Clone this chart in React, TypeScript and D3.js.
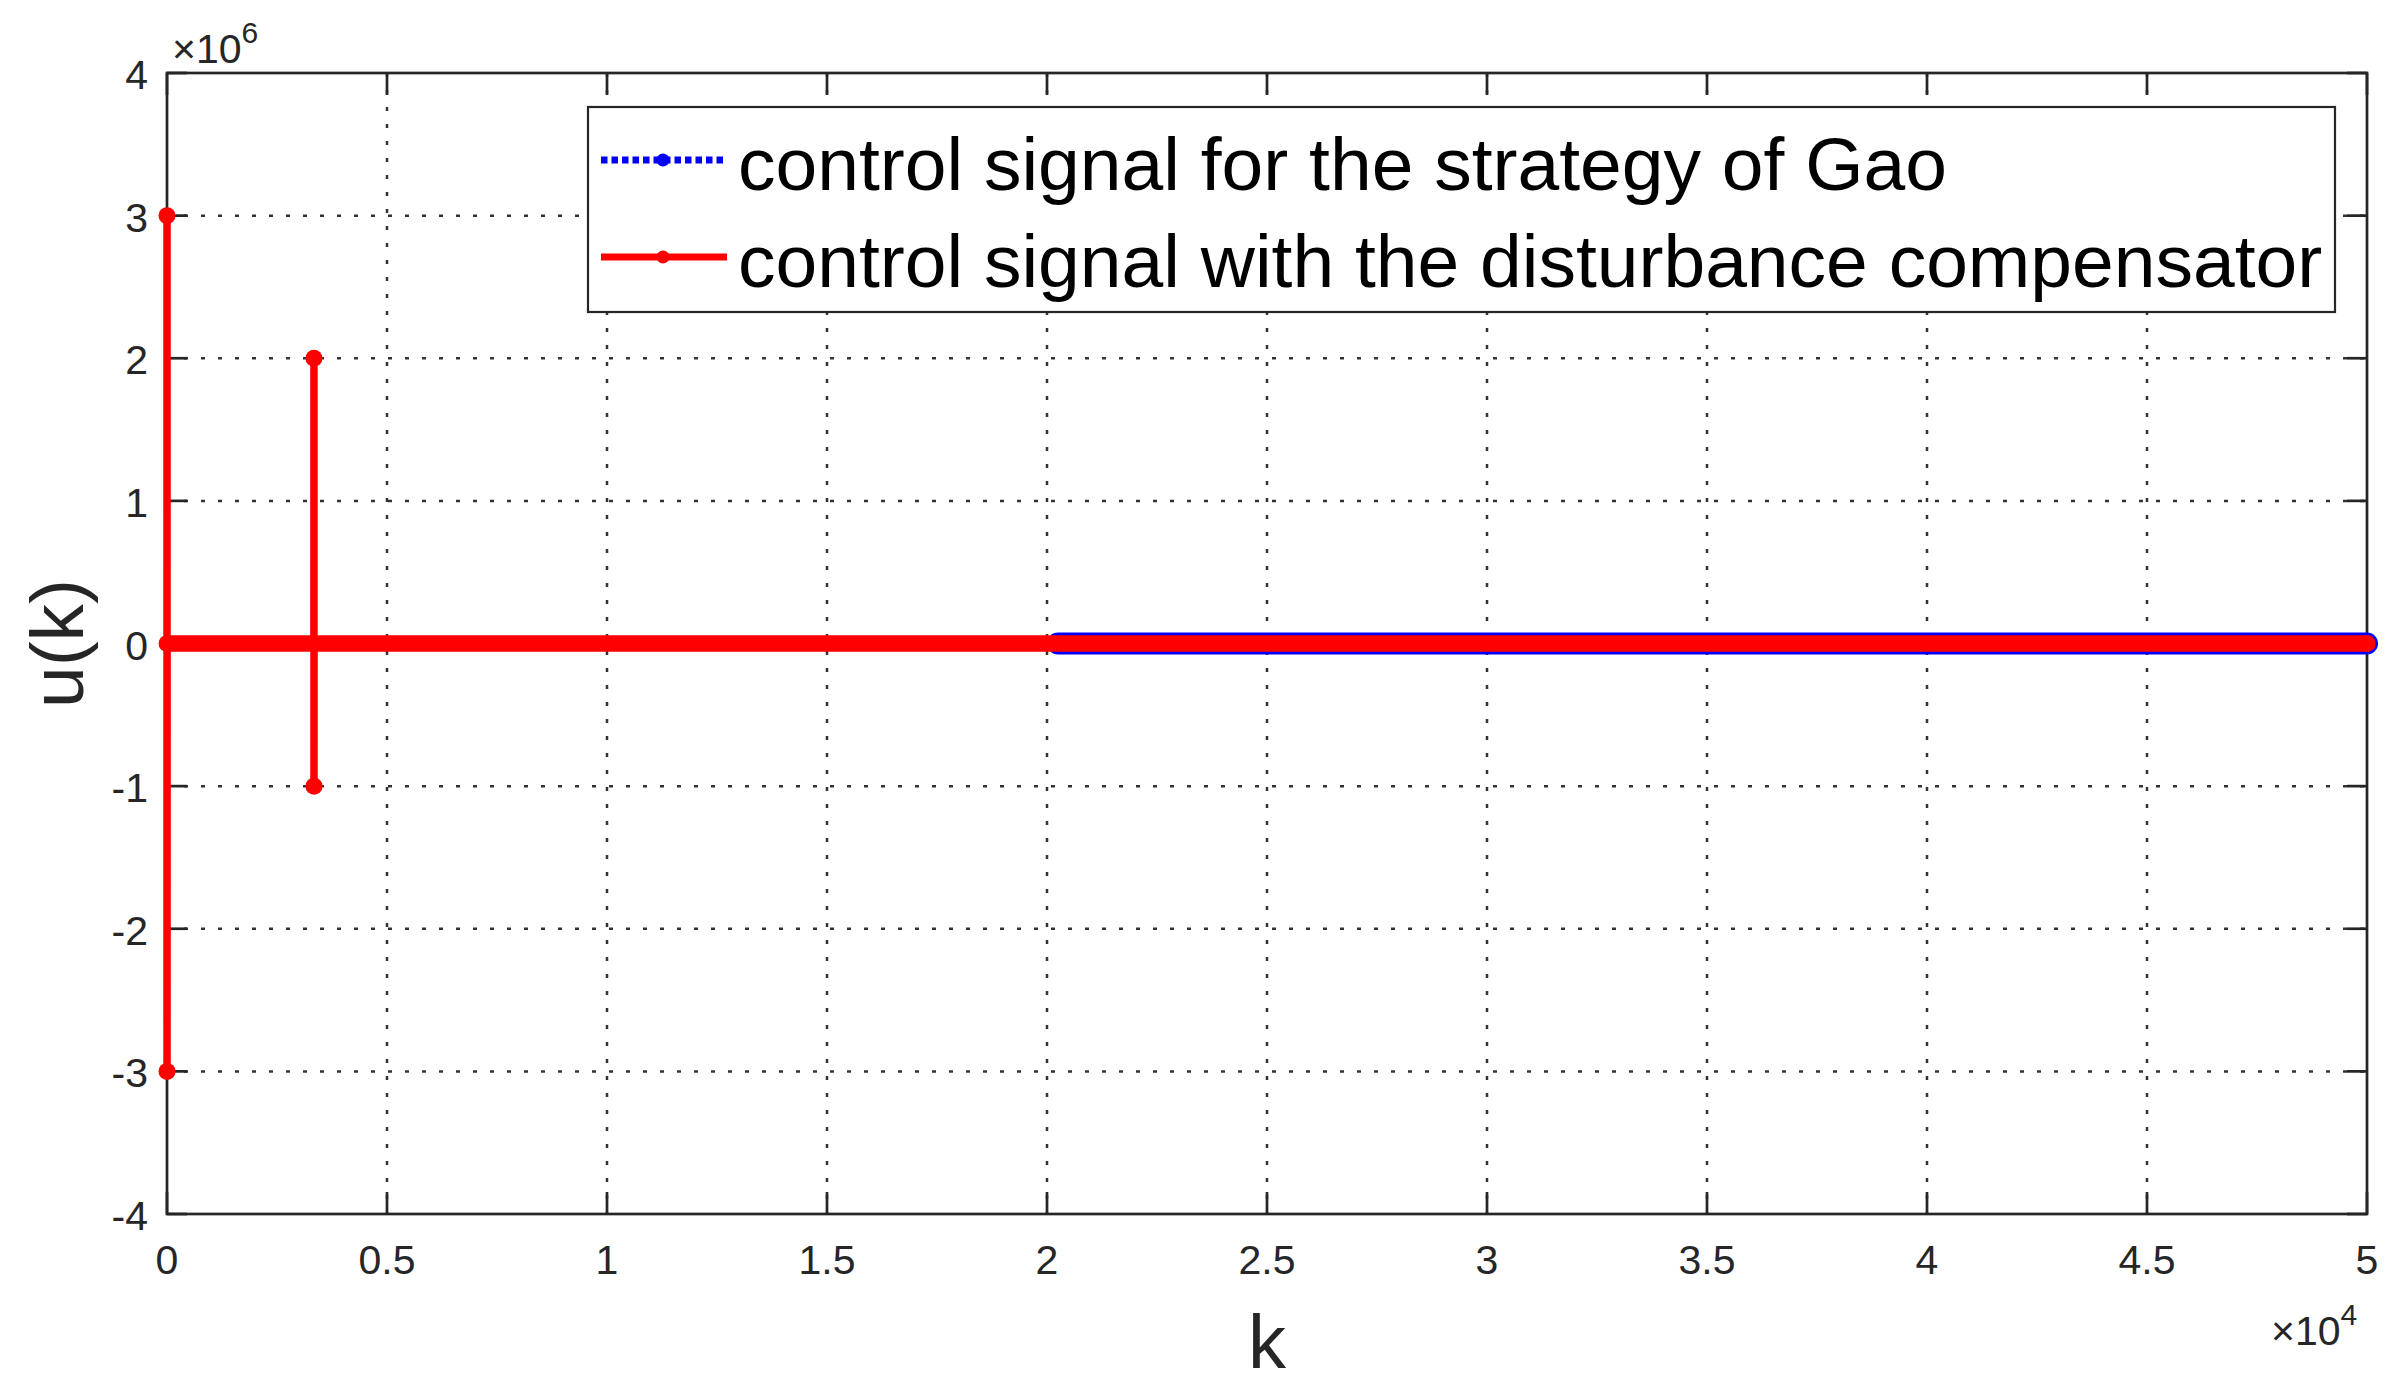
import React, { useEffect, useRef } from "react";
import * as d3 from "d3";

// k samples and u(k) values
const compK = [0, 1, 2, 3339, 3340, 3341, 3342, 50000];
const compU = [3e6, -3e6, 0, 0, 2e6, -1e6, 0, 0];
const gaoK = [20250, 50000];
const gaoU = [0, 0];

const xTicks = [0, 5000, 10000, 15000, 20000, 25000, 30000, 35000, 40000, 45000, 50000];
const yTicks = [-4e6, -3e6, -2e6, -1e6, 0, 1e6, 2e6, 3e6, 4e6];
const legendLabels = [
  "control signal for the strategy of Gao",
  "control signal with the disturbance compensator",
];

const App = () => {
  const svgRef = useRef<SVGSVGElement>(null);

  useEffect(() => {
    const svg = d3.select(svgRef.current);
    svg.selectAll("*").remove();

    const width = 2407, height = 1393;
    const left = 167, right = 2367, top = 73, bottom = 1214;
    const axisColor = "#262626";
    const font = "'Liberation Sans', Arial, sans-serif";

    const x = d3.scaleLinear().domain([0, 50000]).range([left, right]);
    const y = d3.scaleLinear().domain([-4e6, 4e6]).range([bottom, top]);

    svg.append("rect").attr("width", width).attr("height", height).attr("fill", "#fff");

    // grid (dotted)
    const grid = svg.append("g")
      .attr("stroke", "#333")
      .attr("stroke-width", 2.5)
      .attr("stroke-dasharray", "4,13");
    grid.selectAll("line.gx")
      .data(xTicks.slice(1, -1))
      .join("line")
      .attr("x1", (d) => x(d)).attr("x2", (d) => x(d))
      .attr("y1", top).attr("y2", bottom);
    grid.selectAll("line.gy")
      .data(yTicks.slice(1, -1))
      .join("line")
      .attr("x1", left).attr("x2", right)
      .attr("y1", (d) => y(d)).attr("y2", (d) => y(d));

    // axes box + inward ticks on all sides
    const ax = svg.append("g").attr("stroke", axisColor).attr("stroke-width", 2.7);
    ax.append("rect")
      .attr("x", left).attr("y", top)
      .attr("width", right - left).attr("height", bottom - top)
      .attr("fill", "none");
    const tx = 22, ty = 20;
    xTicks.forEach((t) => {
      ax.append("line").attr("x1", x(t)).attr("x2", x(t)).attr("y1", bottom).attr("y2", bottom - tx);
      ax.append("line").attr("x1", x(t)).attr("x2", x(t)).attr("y1", top).attr("y2", top + tx);
    });
    yTicks.forEach((t) => {
      ax.append("line").attr("x1", left).attr("x2", left + ty).attr("y1", y(t)).attr("y2", y(t));
      ax.append("line").attr("x1", right).attr("x2", right - ty).attr("y1", y(t)).attr("y2", y(t));
    });

    // tick labels (plain hyphen for minus, like MATLAB)
    const labels = svg.append("g").attr("fill", axisColor).attr("font-family", font).attr("font-size", 41);
    labels.selectAll("text.xt")
      .data(xTicks)
      .join("text")
      .attr("x", (d) => x(d))
      .attr("y", 1274)
      .attr("text-anchor", "middle")
      .text((d) => String(d / 1e4));
    labels.selectAll("text.yt")
      .data(yTicks)
      .join("text")
      .attr("x", 148)
      .attr("y", (d) => y(d) + 16)
      .attr("text-anchor", "end")
      .text((d) => String(d / 1e6));

    // exponent labels
    const e6 = labels.append("text").attr("x", 172).attr("y", 63);
    e6.append("tspan").text("\u00d710");
    e6.append("tspan").attr("font-size", 30).attr("dy", -20).text("6");
    const e4 = labels.append("text").attr("x", 2271).attr("y", 1345);
    e4.append("tspan").text("\u00d710");
    e4.append("tspan").attr("font-size", 30).attr("dy", -20).text("4");

    // axis titles
    svg.append("text")
      .attr("x", left + (right - left) / 2)
      .attr("y", 1368)
      .attr("text-anchor", "middle")
      .attr("font-family", font)
      .attr("font-size", 76)
      .attr("fill", axisColor)
      .text("k");
    svg.append("text")
      .attr("transform", `translate(83, ${(top + bottom) / 2}) rotate(-90)`)
      .attr("text-anchor", "middle")
      .attr("font-family", font)
      .attr("font-size", 75)
      .attr("fill", axisColor)
      .text("u(k)");

    const line = d3.line<number>()
      .x((d, i) => x(compK[i]))
      .y((d) => y(d));

    // Gao series: dense markers at zero form a thick blue band
    const gaoPts = gaoK.map((k, i) => [k, gaoU[i]] as [number, number]);
    svg.append("path")
      .datum(gaoPts)
      .attr("fill", "none")
      .attr("stroke", "#0000ff")
      .attr("stroke-width", 22)
      .attr("stroke-linecap", "round")
      .attr("d", d3.line().x((d) => x(d[0])).y((d) => y(d[1])));

    // compensator series: spikes
    svg.append("path")
      .datum(compU)
      .attr("fill", "none")
      .attr("stroke", "#ff0000")
      .attr("stroke-width", 7.5)
      .attr("stroke-linejoin", "round")
      .attr("d", line);

    // settled portion (u = 0) drawn as the dense-marker band
    const zeroSegs: [number, number][][] = [];
    for (let i = 1; i < compK.length; i++) {
      if (compU[i] === 0 && compU[i - 1] === 0) {
        zeroSegs.push([[compK[i - 1], 0], [compK[i], 0]]);
      }
    }
    svg.append("g").selectAll("path")
      .data(zeroSegs)
      .join("path")
      .attr("fill", "none")
      .attr("stroke", "#ff0000")
      .attr("stroke-width", 16)
      .attr("stroke-linecap", "round")
      .attr("d", d3.line().x((d) => x(d[0])).y((d) => y(d[1])));
    svg.append("line")
      .attr("x1", x(compK[0])).attr("x2", x(compK[compK.length - 1]))
      .attr("y1", y(0)).attr("y2", y(0))
      .attr("stroke", "#ff0000").attr("stroke-width", 16).attr("stroke-linecap", "round");

    svg.append("g").selectAll("circle")
      .data(compU)
      .join("circle")
      .attr("cx", (d, i) => x(compK[i]))
      .attr("cy", (d) => y(d))
      .attr("r", 8.5)
      .attr("fill", "#ff0000");

    // legend
    const lg = svg.append("g");
    lg.append("rect")
      .attr("x", 588).attr("y", 107)
      .attr("width", 2335 - 588).attr("height", 312 - 107)
      .attr("fill", "#fff")
      .attr("stroke", axisColor)
      .attr("stroke-width", 2.2);
    const rows = [
      { y: 160, color: "#0000ff", dash: "6.5,4" },
      { y: 257, color: "#ff0000", dash: null },
    ];
    rows.forEach((r, i) => {
      lg.append("line")
        .attr("x1", 601).attr("x2", 727)
        .attr("y1", r.y).attr("y2", r.y)
        .attr("stroke", r.color)
        .attr("stroke-width", 7)
        .attr("stroke-dasharray", r.dash);
      lg.append("circle").attr("cx", 663).attr("cy", r.y).attr("r", 6.5).attr("fill", r.color);
      lg.append("text")
        .attr("x", 738)
        .attr("y", r.y + 30)
        .attr("font-family", font)
        .attr("font-size", 75)
        .attr("fill", "#000")
        .text(legendLabels[i]);
    });
  }, []);

  return (
    <svg
      ref={svgRef}
      width={2407}
      height={1393}
      style={{ position: "absolute", left: 0, top: 0 }}
    ></svg>
  );
};

export default App;
